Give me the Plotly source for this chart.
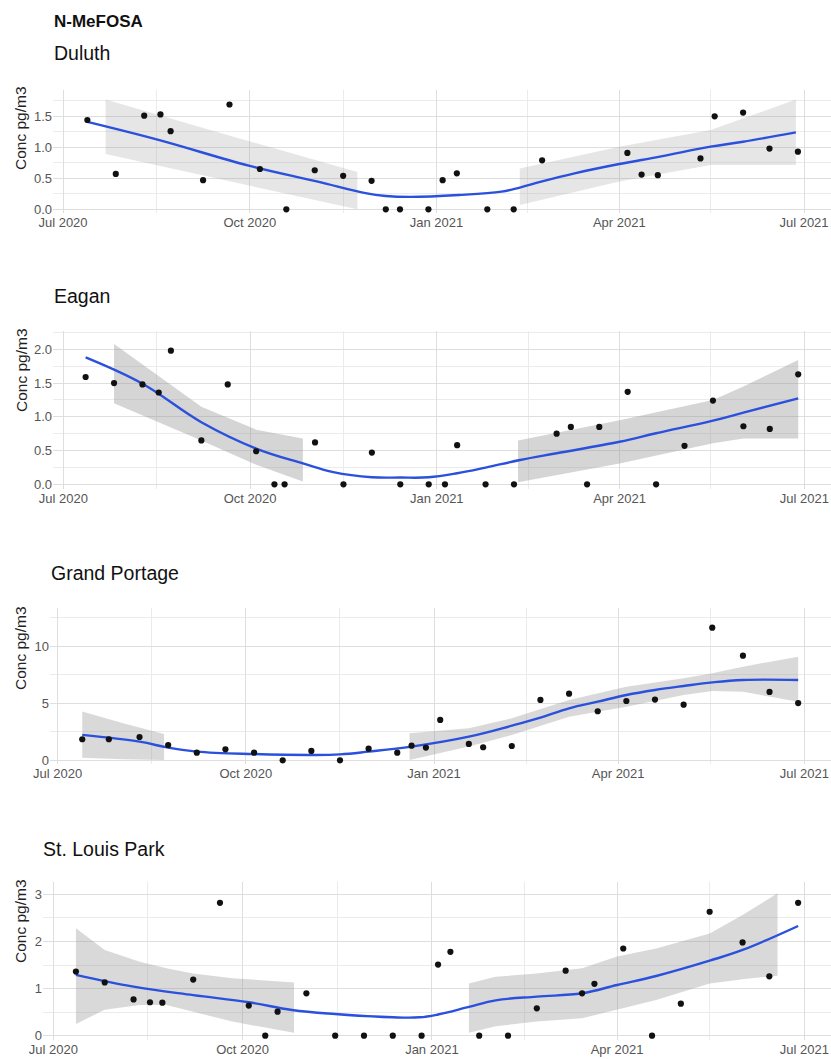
import pandas as pd
import plotly.graph_objects as go

# ---------------- data ----------------
duluth_dates = ["2020-07-13", "2020-07-27", "2020-08-10", "2020-08-18", "2020-08-23", "2020-09-08",
                "2020-09-21", "2020-10-06", "2020-10-19", "2020-11-02", "2020-11-16", "2020-11-30",
                "2020-12-07", "2020-12-14", "2020-12-28", "2021-01-04", "2021-01-11", "2021-01-26",
                "2021-02-08", "2021-02-22", "2021-04-05", "2021-04-12", "2021-04-20", "2021-05-11",
                "2021-05-18", "2021-06-01", "2021-06-14", "2021-06-28"]
duluth_conc = [1.44, 0.57, 1.51, 1.53, 1.26, 0.47, 1.69, 0.65, 0.0, 0.63, 0.54, 0.46,
               0.0, 0.0, 0.0, 0.47, 0.58, 0.0, 0.0, 0.79, 0.91, 0.56, 0.55, 0.82,
               1.50, 1.56, 0.98, 0.93]
duluth_fit_dates = ["2020-07-13", "2020-08-17", "2020-10-01", "2020-11-03", "2020-11-27", "2020-12-07",
                    "2020-12-19", "2021-01-12", "2021-02-02", "2021-02-11", "2021-02-22", "2021-03-10",
                    "2021-04-01", "2021-04-21", "2021-05-16", "2021-06-01", "2021-06-27"]
duluth_fit = [1.41, 1.12, 0.70, 0.45, 0.26, 0.215, 0.20, 0.23, 0.285, 0.35, 0.45, 0.58,
              0.73, 0.85, 1.01, 1.09, 1.24]
duluth_band1_dates = ["2020-07-22", "2020-09-06", "2020-11-23"]
duluth_band1_lo = [0.89, 0.56, 0.0]
duluth_band1_hi = [1.77, 1.33, 0.60]
duluth_band2_dates = ["2021-02-11", "2021-04-01", "2021-05-16", "2021-06-27"]
duluth_band2_lo = [0.07, 0.45, 0.715, 0.715]
duluth_band2_hi = [0.66, 1.01, 1.28, 1.77]

eagan_dates = ["2020-07-12", "2020-07-26", "2020-08-09", "2020-08-17", "2020-08-23", "2020-09-07",
               "2020-09-20", "2020-10-04", "2020-10-13", "2020-10-18", "2020-11-02", "2020-11-16",
               "2020-11-30", "2020-12-14", "2020-12-28", "2021-01-05", "2021-01-11", "2021-01-25",
               "2021-02-08", "2021-03-01", "2021-03-08", "2021-03-16", "2021-03-22", "2021-04-05",
               "2021-04-19", "2021-05-03", "2021-05-17", "2021-06-01", "2021-06-14", "2021-06-28"]
eagan_conc = [1.59, 1.50, 1.48, 1.36, 1.98, 0.65, 1.48, 0.49, 0.0, 0.0, 0.62, 0.0,
              0.47, 0.0, 0.0, 0.0, 0.58, 0.0, 0.0, 0.75, 0.85, 0.0, 0.85, 1.37,
              0.0, 0.57, 1.24, 0.86, 0.82, 1.63]
eagan_fit_dates = ["2020-07-12", "2020-08-09", "2020-09-07", "2020-10-04", "2020-10-27", "2020-11-11",
                   "2020-11-30", "2020-12-14", "2020-12-28", "2021-01-11", "2021-01-25", "2021-02-11",
                   "2021-03-01", "2021-04-01", "2021-04-19", "2021-05-17", "2021-06-01", "2021-06-28"]
eagan_fit = [1.88, 1.49, 0.92, 0.53, 0.31, 0.18, 0.105, 0.10, 0.104, 0.163, 0.247, 0.36,
             0.46, 0.63, 0.756, 0.943, 1.062, 1.274]
eagan_band1_dates = ["2020-07-26", "2020-09-07", "2020-10-04", "2020-10-27"]
eagan_band1_lo = [1.20, 0.65, 0.29, 0.04]
eagan_band1_hi = [2.08, 1.15, 0.81, 0.68]
eagan_band2_dates = ["2021-02-10", "2021-04-01", "2021-05-17", "2021-06-01", "2021-06-28"]
eagan_band2_lo = [0.03, 0.31, 0.61, 0.68, 0.68]
eagan_band2_hi = [0.65, 0.95, 1.25, 1.45, 1.84]

gp_dates = ["2020-07-13", "2020-07-26", "2020-08-10", "2020-08-24", "2020-09-07", "2020-09-21",
            "2020-10-05", "2020-10-19", "2020-11-02", "2020-11-16", "2020-11-30", "2020-12-14",
            "2020-12-21", "2020-12-28", "2021-01-04", "2021-01-18", "2021-01-25", "2021-02-08",
            "2021-02-22", "2021-03-08", "2021-03-22", "2021-04-05", "2021-04-19", "2021-05-03",
            "2021-05-17", "2021-06-01", "2021-06-14", "2021-06-28"]
gp_conc = [1.84, 1.84, 2.04, 1.34, 0.67, 0.96, 0.67, 0.0, 0.82, 0.0, 1.02, 0.67,
           1.28, 1.11, 3.53, 1.43, 1.14, 1.25, 5.28, 5.83, 4.29, 5.19, 5.31, 4.87,
           11.6, 9.15, 5.98, 5.01]
gp_fit_dates = ["2020-07-13", "2020-08-10", "2020-08-24", "2020-09-07", "2020-10-05", "2020-11-02",
                "2020-11-16", "2020-11-30", "2020-12-21", "2021-01-18", "2021-02-08", "2021-02-22",
                "2021-03-08", "2021-03-22", "2021-04-05", "2021-04-19", "2021-05-03", "2021-05-17",
                "2021-06-01", "2021-06-28"]
gp_fit = [2.22, 1.63, 1.11, 0.76, 0.55, 0.47, 0.52, 0.76, 1.2, 2.07, 3.03, 3.73,
          4.55, 5.13, 5.71, 6.15, 6.5, 6.82, 7.03, 7.03]
gp_band1_dates = ["2020-07-13", "2020-08-02", "2020-08-22"]
gp_band1_lo = [0.23, 0.09, 0.03]
gp_band1_hi = [4.26, 3.24, 2.3]
gp_band2_dates = ["2020-12-20", "2021-01-18", "2021-02-08", "2021-03-08", "2021-04-05", "2021-05-03",
                  "2021-05-17", "2021-06-01", "2021-06-28"]
gp_band2_lo = [0.03, 1.2, 2.22, 3.82, 4.69, 5.71, 6.06, 6.0, 5.13]
gp_band2_hi = [2.36, 2.8, 3.67, 5.28, 6.44, 7.17, 7.61, 8.19, 9.07]

slp_dates = ["2020-07-12", "2020-07-26", "2020-08-09", "2020-08-17", "2020-08-23", "2020-09-07",
             "2020-09-20", "2020-10-04", "2020-10-12", "2020-10-18", "2020-11-01", "2020-11-15",
             "2020-11-29", "2020-12-13", "2020-12-27", "2021-01-04", "2021-01-10", "2021-01-24",
             "2021-02-07", "2021-02-21", "2021-03-07", "2021-03-15", "2021-03-21", "2021-04-04",
             "2021-04-18", "2021-05-02", "2021-05-16", "2021-06-01", "2021-06-14", "2021-06-28"]
slp_conc = [1.36, 1.13, 0.77, 0.71, 0.70, 1.19, 2.82, 0.64, 0.0, 0.51, 0.90, 0.0,
            0.0, 0.0, 0.0, 1.51, 1.78, 0.0, 0.0, 0.58, 1.38, 0.90, 1.10, 1.85,
            0.0, 0.68, 2.63, 1.98, 1.26, 2.82]
slp_fit_dates = ["2020-07-12", "2020-08-09", "2020-09-07", "2020-10-04", "2020-10-25", "2020-11-15",
                 "2020-12-13", "2020-12-26", "2021-01-04", "2021-01-19", "2021-02-01", "2021-02-21",
                 "2021-03-15", "2021-04-01", "2021-04-20", "2021-05-16", "2021-06-01", "2021-06-28"]
slp_fit = [1.29, 1.04, 0.86, 0.71, 0.545, 0.46, 0.39, 0.39, 0.45, 0.61, 0.75, 0.83,
           0.90, 1.076, 1.267, 1.592, 1.819, 2.328]
slp_band1_dates = ["2020-07-12", "2020-07-26", "2020-08-12", "2020-08-25", "2020-09-07", "2020-09-26",
                   "2020-10-26"]
slp_band1_lo = [0.25, 0.55, 0.65, 0.65, 0.50, 0.30, 0.06]
slp_band1_hi = [2.28, 1.82, 1.57, 1.43, 1.32, 1.22, 1.13]
slp_band2_dates = ["2021-01-19", "2021-02-01", "2021-02-21", "2021-03-15", "2021-04-01", "2021-04-20",
                   "2021-05-16", "2021-06-01", "2021-06-18"]
slp_band2_lo = [0.06, 0.2, 0.3, 0.37, 0.545, 0.757, 1.11, 1.2, 1.27]
slp_band2_hi = [1.11, 1.25, 1.32, 1.43, 1.68, 1.85, 2.17, 2.56, 3.02]

site_names = ["Duluth", "Eagan", "Grand Portage", "St. Louis Park"]
main_title = "N-MeFOSA"
y_title = "Conc pg/m3"
x_tick_dates = ["2020-07-01", "2020-10-01", "2021-01-01", "2021-04-01", "2021-07-01"]
x_tick_text = ["Jul 2020", "Oct 2020", "Jan 2021", "Apr 2021", "Jul 2021"]
x_minor_dates = ["2020-08-16", "2020-11-16", "2021-02-15", "2021-05-16"]
y_major = [[0, 0.5, 1.0, 1.5], [0, 0.5, 1.0, 1.5, 2.0], [0, 5, 10], [0, 1, 2, 3]]
y_minor = [[0.25, 0.75, 1.25, 1.75], [0.25, 0.75, 1.25, 1.75, 2.25], [2.5, 7.5, 12.5], [0.5, 1.5, 2.5]]
y_fmt = [".1f", ".1f", "d", "d"]

sites = [
    dict(d=duluth_dates, c=duluth_conc, fd=duluth_fit_dates, f=duluth_fit,
         bands=[(duluth_band1_dates, duluth_band1_lo, duluth_band1_hi),
                (duluth_band2_dates, duluth_band2_lo, duluth_band2_hi)]),
    dict(d=eagan_dates, c=eagan_conc, fd=eagan_fit_dates, f=eagan_fit,
         bands=[(eagan_band1_dates, eagan_band1_lo, eagan_band1_hi),
                (eagan_band2_dates, eagan_band2_lo, eagan_band2_hi)]),
    dict(d=gp_dates, c=gp_conc, fd=gp_fit_dates, f=gp_fit,
         bands=[(gp_band1_dates, gp_band1_lo, gp_band1_hi),
                (gp_band2_dates, gp_band2_lo, gp_band2_hi)]),
    dict(d=slp_dates, c=slp_conc, fd=slp_fit_dates, f=slp_fit,
         bands=[(slp_band1_dates, slp_band1_lo, slp_band1_hi),
                (slp_band2_dates, slp_band2_lo, slp_band2_hi)]),
]

# ---------------- layout geometry (pixels) ----------------
W, H = 831, 1059
FONT = "Liberation Sans, Arial, sans-serif"
panels = [
    dict(l=53, r=831, t=90, b=213, xa=63.0, xb=804.0, y0=209.3, ys=62.0,
         title_y=53, title_x=52, ylab_x=20, ylab_y=128, band="rgba(160,160,160,0.26)"),
    dict(l=53, r=831, t=331, b=489, xa=63.3, xb=804.3, y0=484.3, ys=67.5,
         title_y=296, title_x=52, ylab_x=21, ylab_y=370, band="rgba(150,150,150,0.40)"),
    dict(l=50, r=831, t=608, b=764, xa=57.7, xb=804.3, y0=760.3, ys=11.43,
         title_y=573, title_x=49, ylab_x=20, ylab_y=648, band="rgba(150,150,150,0.36)"),
    dict(l=43, r=831, t=882, b=1040, xa=53.3, xb=804.3, y0=1035.7, ys=47.13,
         title_y=849, title_x=41, ylab_x=20, ylab_y=921, band="rgba(150,150,150,0.36)"),
]

jul20 = pd.Timestamp("2020-07-01")
jul21 = pd.Timestamp("2021-07-01")
span_days = (jul21 - jul20).days

fig = go.Figure()
annotations = []
layout_axes = {}

annotations.append(dict(text="<b>" + main_title + "</b>", xref="paper", yref="paper",
                        x=52 / W, y=1 - 21 / H, xanchor="left", yanchor="middle",
                        showarrow=False, font=dict(family=FONT, size=17, color="#111111")))

for i, (s, p, name) in enumerate(zip(sites, panels, site_names)):
    n = i + 1
    xa = "x" if n == 1 else f"x{n}"
    ya = "y" if n == 1 else f"y{n}"
    for (bd, lo, hi) in s["bands"]:
        xs = list(pd.to_datetime(bd)) + list(pd.to_datetime(bd))[::-1]
        ys = list(hi) + list(lo)[::-1]
        fig.add_trace(go.Scatter(x=xs, y=ys, fill="toself", fillcolor=p["band"],
                                 line=dict(width=0), mode="lines", hoverinfo="skip",
                                 showlegend=False, xaxis=xa, yaxis=ya))
    fig.add_trace(go.Scatter(x=pd.to_datetime(s["fd"]), y=s["f"], mode="lines",
                             line=dict(color="#2a50dc", width=2.4, shape="spline", smoothing=1.1),
                             showlegend=False, xaxis=xa, yaxis=ya))
    fig.add_trace(go.Scatter(x=pd.to_datetime(s["d"]), y=s["c"], mode="markers",
                             marker=dict(color="#111111", size=6.2),
                             showlegend=False, xaxis=xa, yaxis=ya))

    ppd = (p["xb"] - p["xa"]) / span_days
    x_left = jul20 + pd.Timedelta(days=(p["l"] - p["xa"]) / ppd)
    x_right = jul20 + pd.Timedelta(days=(p["r"] - p["xa"]) / ppd)
    y_bot = -(p["b"] - p["y0"]) / p["ys"]
    y_top = (p["y0"] - p["t"]) / p["ys"]

    xkey = "xaxis" if n == 1 else f"xaxis{n}"
    ykey = "yaxis" if n == 1 else f"yaxis{n}"
    layout_axes[xkey] = dict(
        domain=[p["l"] / W, p["r"] / W], anchor=ya, type="date",
        range=[x_left, x_right], tickmode="array",
        tickvals=pd.to_datetime(x_tick_dates), ticktext=x_tick_text,
        showgrid=True, gridcolor="#dedede", gridwidth=1.1, zeroline=False, showline=False,
        ticks="", automargin=False,
        tickfont=dict(family=FONT, size=13, color="#555555"),
        minor=dict(tickmode="array", tickvals=pd.to_datetime(x_minor_dates),
                   showgrid=True, gridcolor="#ebebeb", gridwidth=0.9, ticks=""),
        fixedrange=True)
    layout_axes[ykey] = dict(
        domain=[1 - p["b"] / H, 1 - p["t"] / H], anchor=xa,
        range=[y_bot, y_top], tickmode="array", tickvals=y_major[i],
        tickformat=y_fmt[i], showgrid=True, gridcolor="#dedede", gridwidth=1.1,
        zeroline=False, showline=False, ticks="", automargin=False,
        tickfont=dict(family=FONT, size=13, color="#555555"),
        minor=dict(tickmode="array", tickvals=y_minor[i], showgrid=True,
                   gridcolor="#ebebeb", gridwidth=0.9, ticks=""),
        fixedrange=True)

    annotations.append(dict(text=name, xref="paper", yref="paper",
                            x=p["title_x"] / W, y=1 - p["title_y"] / H,
                            xanchor="left", yanchor="middle", showarrow=False,
                            font=dict(family=FONT, size=19.5, color="#111111")))
    annotations.append(dict(text=y_title, xref="paper", yref="paper",
                            x=p["ylab_x"] / W, y=1 - p["ylab_y"] / H, textangle=-90,
                            xanchor="center", yanchor="middle", showarrow=False,
                            font=dict(family=FONT, size=15.5, color="#222222")))

fig.update_layout(
    width=W, height=H, margin=dict(l=0, r=0, t=0, b=0),
    paper_bgcolor="white", plot_bgcolor="white",
    annotations=annotations, showlegend=False,
    **layout_axes)

fig.write_html("out.html", config={"displayModeBar": False})
